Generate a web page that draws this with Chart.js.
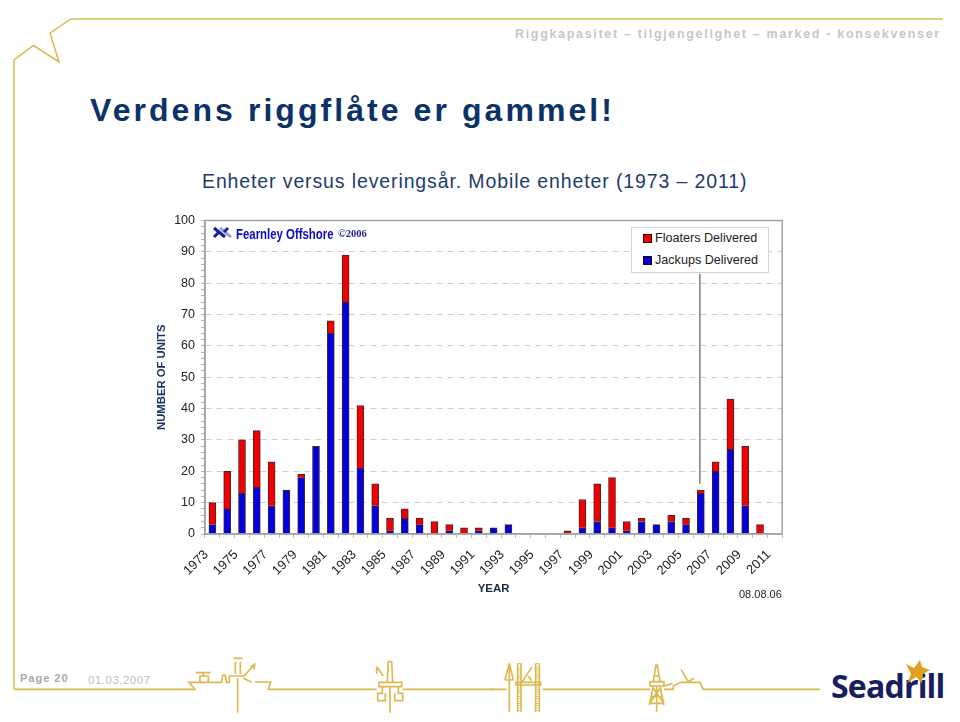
<!DOCTYPE html>
<html lang="no">
<head>
<meta charset="utf-8">
<title>Verdens riggflåte er gammel!</title>
<script src="https://cdn.jsdelivr.net/npm/chart.js@4.4.0/dist/chart.umd.min.js"></script>
<style>
  html, body { margin: 0; padding: 0; background: #fff; }
  body { position: relative; width: 960px; height: 722px; overflow: hidden; font-family: "Liberation Sans", Arial, sans-serif; }
  .abs { position: absolute; white-space: nowrap; line-height: 1; }
  #deco { position: absolute; left: 0; top: 0; }
  #chart-wrap { position: absolute; left: 145px; top: 205px; width: 650px; height: 400px; }
  #header { left: 515px; top: 28px; font-size: 12.5px; font-weight: bold; letter-spacing: 1.68px; color: #c6c6c6; }
  #title { left: 90px; top: 94px; font-size: 32px; font-weight: bold; letter-spacing: 3.06px; color: #0b3269; }
  #subtitle { left: 202px; top: 172px; font-size: 19.5px; letter-spacing: .88px; color: #1d3c6c; }
  #legend { position: absolute; left: 631px; top: 227px; width: 136px; height: 44px; background: #fff; border: 1px solid #d4d4d4; font-size: 12.6px; color: #222; }
  .leg-row { position: absolute; left: 11px; display: flex; align-items: center; gap: 3px; height: 14px; }
  .leg-dot { width: 7px; height: 7px; border: 1px solid #300; }
  #fearnley { left: 236px; top: 226px; font-size: 15px; font-weight: bold; color: #0a0ac0; transform-origin: 0 0; transform: scaleX(.76); }
  #copyr { left: 338px; top: 229px; font-size: 10.5px; font-weight: bold; font-family: "Liberation Serif", serif; color: #23238f; }
  #stamp { left: 739px; top: 589px; font-size: 11px; color: #222; }
  #page { left: 20px; top: 673px; font-size: 11px; font-weight: bold; letter-spacing: 1px; color: #a8a8a8; }
  #date { left: 88px; top: 675px; font-size: 11.5px; letter-spacing: .5px; color: #c0c0c0; }
  #brand { left: 831px; top: 670px; font-family: "Open Sans", sans-serif; font-size: 32px; font-weight: 700; letter-spacing: -.8px; color: #17205f; }
</style>
</head>
<body>

<svg id="deco" width="960" height="722" fill="none" stroke="#dcb84e">
  <path stroke-width="1.5" d="M14,689 V60 L33.5,45.5 L59,62 L50,33 L71,19 H943"/>
  <!-- drillship -->
  <g transform="translate(180,650) scale(.3333)" stroke-width="5">
    <path d="M-498,118 H45 L27,97 H125 L128,75 H135 L140,97 H148 V78 H190 M225,96 H272 L265,118 H590"/>
    <path d="M160,25 H188 M166,35 V72 M181,35 V72 M190,80 L222,45 M212,50 L224,43 L222,58 M190,85 L215,97"/>
    <path d="M48,68 H92 M70,68 V78 M60,96 V78 H85 V96 M173,85 V188"/>
    <!-- semi -->
    <path d="M597,97 H665 V110 H597 Z M607,110 V130 H593 V152 H616 V130 M655,110 V130 H668 V152 H644 V130"/>
    <path d="M622,97 L625,35 H635 L638,97 M630,110 V188 M590,50 L610,78 M590,50 V72 M668,118 H940"/>
  </g>
  <g transform="translate(490,650) scale(.3333)" stroke-width="5">
    <!-- jackup -->
    <path d="M0,118 H50 M58,40 V185 M45,90 L58,40 L70,90 M45,90 H70"/>
    <path d="M83,40 V185 M93,40 V185 M137,40 V185 M148,40 V185"/>
    <path stroke-width="8" stroke-dasharray="2 5" d="M88,40 V185 M142,40 V185"/>
    <path d="M78,97 H152 V105 H78 Z M97,95 L125,52 M115,78 L125,92 M158,118 H480"/>
    <!-- land rig -->
    <path d="M480,95 H522 V108 H480 Z M490,95 L498,45 H502 L510,95 M490,78 H510 M490,108 L478,165 M510,108 L522,165 M500,108 V185 M484,140 L516,140 M480,160 L520,160 M490,115 L518,155 M510,115 L482,155"/>
    <path d="M522,108 L548,100 M522,118 H550 V108 L572,97 H615 V97 H630 L640,118 H990 M573,58 L598,100 M590,98 L612,85"/>
  </g>
  <!-- fearnley mark -->
  <g stroke-width="3">
    <path stroke="#9aa4d8" d="M220,228 L231,237"/>
    <path stroke="#1b1f9c" d="M214,228 L225,237 M214,237 L218,233 M228,228 L224,232"/>
  </g>
</svg>

<div class="abs" id="header">Riggkapasitet – tilgjengelighet – marked - konsekvenser</div>
<div class="abs" id="title">Verdens riggflåte er gammel!</div>
<div class="abs" id="subtitle">Enheter versus leveringsår. Mobile enheter (1973 – 2011)</div>

<div id="chart-wrap"><canvas id="chart-rigs"></canvas></div>

<div class="abs" id="fearnley">Fearnley Offshore</div>
<div class="abs" id="copyr">©2006</div>
<div id="legend"></div>
<div class="abs" id="stamp">08.08.06</div>
<div class="abs" id="page">Page 20</div>
<div class="abs" id="date">01.03.2007</div>
<div class="abs" id="brand">Seadrill</div>
<svg class="abs" style="left:0;top:0" width="960" height="722">
  <!-- seadrill star -->
  <polygon fill="#e0a020" points="920,660 922,667 930,670 923,674 922,683 916,677 907,683 911,674 906,664 914,668"/>
</svg>

<script>
// leveringsår 1973-2011
const YEARS = ['1973','1974','1975','1976','1977','1978','1979','1980','1981','1982',
  '1983','1984','1985','1986','1987','1988','1989','1990','1991','1992',
  '1993','1994','1995','1996','1997','1998','1999','2000','2001','2002',
  '2003','2004','2005','2006','2007','2008','2009','2010','2011'];
const JACKUPS = [3,8,13,15,9,14,18,28,64,74, 21,9,1,5,3,0,1,0,1,2, 3,0,0,0,0,2,4,2,1,4, 3,4,3,13,20,27,9,0,0];
const FLOATERS = [7,12,17,18,14,0,1,0,4,15, 20,7,4,3,2,4,2,2,1,0, 0,0,0,0,1,9,12,16,3,1, 0,2,2,1,3,16,19,3,0];
const Y_TICKS_STEP = 2;
const LEADER_YEAR = '2006';

const RED = '#f00000', BLUE = '#0000e0', EDGE = 'rgba(40,0,0,.85)', AXIS = '#a3a3a3';

// ramme rundt plottet + strek fra legenden
const framePlugin = {
  id: 'frame',
  afterDatasetsDraw(chart) {
    const { ctx, chartArea: a, scales } = chart;
    ctx.save();
    ctx.strokeStyle = AXIS;
    ctx.lineWidth = 1.5;
    ctx.strokeRect(a.left, a.top, a.right - a.left, a.bottom - a.top);
    const x = scales.x.getPixelForValue(YEARS.indexOf(LEADER_YEAR)) - 1;
    ctx.strokeStyle = '#7d7d7d';
    ctx.lineWidth = 1.5;
    ctx.beginPath();
    ctx.moveTo(x, scales.y.getPixelForValue(83));
    ctx.lineTo(x, scales.y.getPixelForValue(16));
    ctx.stroke();
    ctx.restore();
  }
};

new Chart(document.getElementById('chart-rigs'), {
  type: 'bar',
  data: {
    labels: YEARS,
    datasets: [
      { label: 'Jackups Delivered', data: JACKUPS, backgroundColor: BLUE, borderColor: EDGE, borderWidth: 1, barThickness: 7 },
      { label: 'Floaters Delivered', data: FLOATERS, backgroundColor: RED, borderColor: EDGE, borderWidth: 1, barThickness: 7 }
    ]
  },
  options: {
    responsive: true, maintainAspectRatio: false, animation: false,
    layout: { padding: { top: 15.5, right: 11, bottom: 9, left: 0 } },
    plugins: { legend: { display: false }, tooltip: { enabled: false } },
    scales: {
      x: {
        stacked: true,
        afterFit: s => { s.height = 62; },
        grid: { drawOnChartArea: false, tickLength: 4, color: '#bdbdbd' },
        border: { color: AXIS, width: 1.5 },
        ticks: {
          autoSkip: false, minRotation: 45, maxRotation: 45, labelOffset: -6, padding: 9,
          color: '#222', font: { family: "'Liberation Sans', sans-serif", size: 13 },
          callback(v, i) { return i % 2 === 0 ? YEARS[i] : ''; }
        },
        title: { display: true, text: 'YEAR', color: '#1f2a44', font: { family: "'Liberation Sans', sans-serif", size: 11.5, weight: 'bold' }, padding: 0 }
      },
      y: {
        stacked: true, min: 0, max: 100,
        afterFit: s => { s.width = 60; },
        grid: {
          tickLength: 4, tickColor: '#b5b5b5', tickBorderDash: [],
          color: c => (c.tick.value % 10 === 0 && c.tick.value > 0 && c.tick.value < 100) ? '#cfcfcf' : 'transparent'
        },
        border: { color: AXIS, width: 1.5, dash: [6, 5] },
        ticks: {
          stepSize: Y_TICKS_STEP, autoSkip: false, padding: 6,
          color: '#222', font: { family: "'Liberation Sans', sans-serif", size: 12.5 },
          callback(v) { return v % 10 === 0 ? v : ''; }
        },
        title: { display: true, text: 'NUMBER OF UNITS', color: '#17346b', font: { family: "'Liberation Sans', sans-serif", size: 11.3, weight: 'bold' }, padding: { top: 10, bottom: 0 } }
      }
    }
  },
  plugins: [framePlugin]
});

// legenden ligger oppå plottet
function mkLegend(id, labels, colors) {
  const el = document.getElementById(id);
  el.innerHTML = labels.map((l, i) => `
    <div class="leg-row" style="top:${3 + i * 22}px">
      <div class="leg-dot" style="background:${colors[i]}"></div><span>${l}</span>
    </div>`).join('');
}
mkLegend('legend', ['Floaters Delivered', 'Jackups Delivered'], [RED, BLUE]);
</script>
</body>
</html>
